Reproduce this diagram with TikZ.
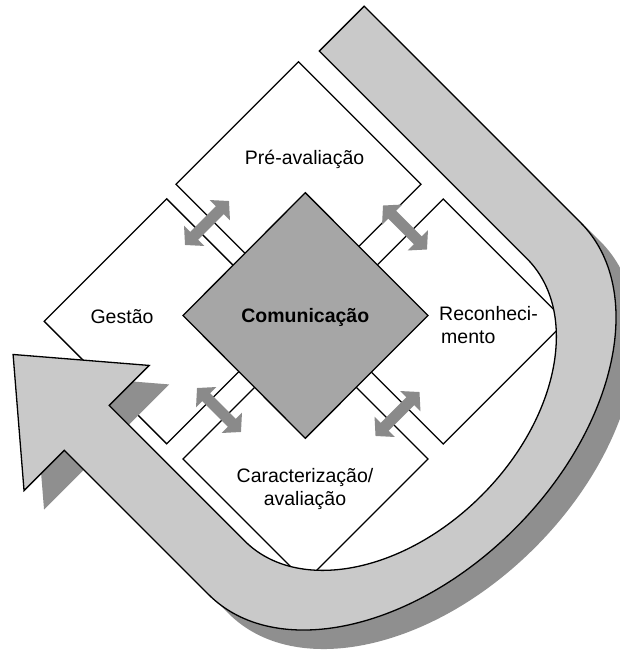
\documentclass[tikz,border=0pt]{standalone}
\usepackage{fontspec}
\setmainfont{Liberation Sans}
\usetikzlibrary{arrows.meta}
\definecolor{bandgray}{RGB}{201,201,201}
\definecolor{shadegray}{RGB}{143,143,143}
\definecolor{hubgray}{RGB}{166,166,166}
\definecolor{arrgray}{RGB}{138,138,138}
\tikzset{
  outline/.style={draw=black, line width=1.3pt, line join=miter},
  boxstyle/.style={outline, fill=white},
  hubstyle/.style={outline, fill=hubgray},
  lbl/.style={font=\fontsize{19.5}{23}\selectfont, inner sep=0pt},
  dblarrow/.style={draw=arrgray, line width=11pt,
    {Triangle[length=13pt,width=28pt]}-{Triangle[length=13pt,width=28pt]}},
  uvframe/.style={shift={(0pt,-14pt)}, x={(0.70711pt,-0.70711pt)}, y={(0.70711pt,0.70711pt)}},
  bandpath/.style={insert path={
    (252,263) -- (558,263)
    arc[start angle=90, end angle=-90, x radius=170, y radius=263]
    -- (354,-263) -- (354,-320) -- (250,-231.5) -- (354,-143) -- (354,-199.6)
    -- (545.6,-199.6)
    arc[start angle=-90, end angle=90, x radius=135.4, y radius=199.6]
    -- (252,199.6) -- cycle}}
}
\begin{document}
\begin{tikzpicture}[x=1pt, y=-1pt]
\useasboundingbox (0,0) rectangle (620,650);
\clip (0,0) rectangle (620,650);
\fill[white] (0,0) rectangle (620,650);

% four boxes
\draw[boxstyle] (298.5,61.8) -- (421,184.3) -- (298.5,306.8) -- (176,184.3) -- cycle;
\draw[boxstyle] (166.7,198.8) -- (289.2,321.3) -- (166.7,443.8) -- (44.2,321.3) -- cycle;
\draw[boxstyle] (443.3,199) -- (565.8,321.5) -- (443.3,444) -- (320.8,321.5) -- cycle;
\draw[boxstyle] (305.5,336.5) -- (428,459) -- (305.5,581.5) -- (183,459) -- cycle;

% central diamond
\draw[hubstyle] (305.3,192.7) -- (428,315.5) -- (305.3,438.3) -- (183,315.5) -- cycle;

% labels
\node[lbl, anchor=base] (pre) at (304.6,164) {Pré-avaliação};
\node[lbl, anchor=base] (ges) at (122,323) {Gestão};
\node[lbl, anchor=base, font=\fontsize{19.5}{23}\selectfont\bfseries] (com) at (305.3,322.5) {Comunicação};
\node[lbl, anchor=base west] (rec1) at (439,320.7) {Reconheci-};
\node[lbl, anchor=base west] (rec2) at (441,343.3) {mento};
\node[lbl, anchor=base] (car1) at (305,482.5) {Caracterização/};
\node[lbl, anchor=base] (car2) at (305,505.5) {avaliação};

% double arrows between neighbouring boxes
\coordinate (tlA) at (185,245);   \coordinate (tlB) at (229,201);
\coordinate (trA) at (383,205.5); \coordinate (trB) at (427,249.5);
\coordinate (blA) at (197,388);   \coordinate (blB) at (241,432);
\coordinate (brA) at (419.5,392); \coordinate (brB) at (375.5,436);
\draw[dblarrow] (tlA) -- (tlB);
\draw[dblarrow] (trA) -- (trB);
\draw[dblarrow] (blA) -- (blB);
\draw[dblarrow] (brA) -- (brB);

% big cycle arrow: shadow then band
\begin{scope}[shift={(20pt,-19pt)}]
  \begin{scope}[uvframe]
    \fill[shadegray, bandpath];
  \end{scope}
\end{scope}
\begin{scope}[uvframe]
  \filldraw[fill=bandgray, outline, bandpath];
\end{scope}
\end{tikzpicture}
\end{document}
